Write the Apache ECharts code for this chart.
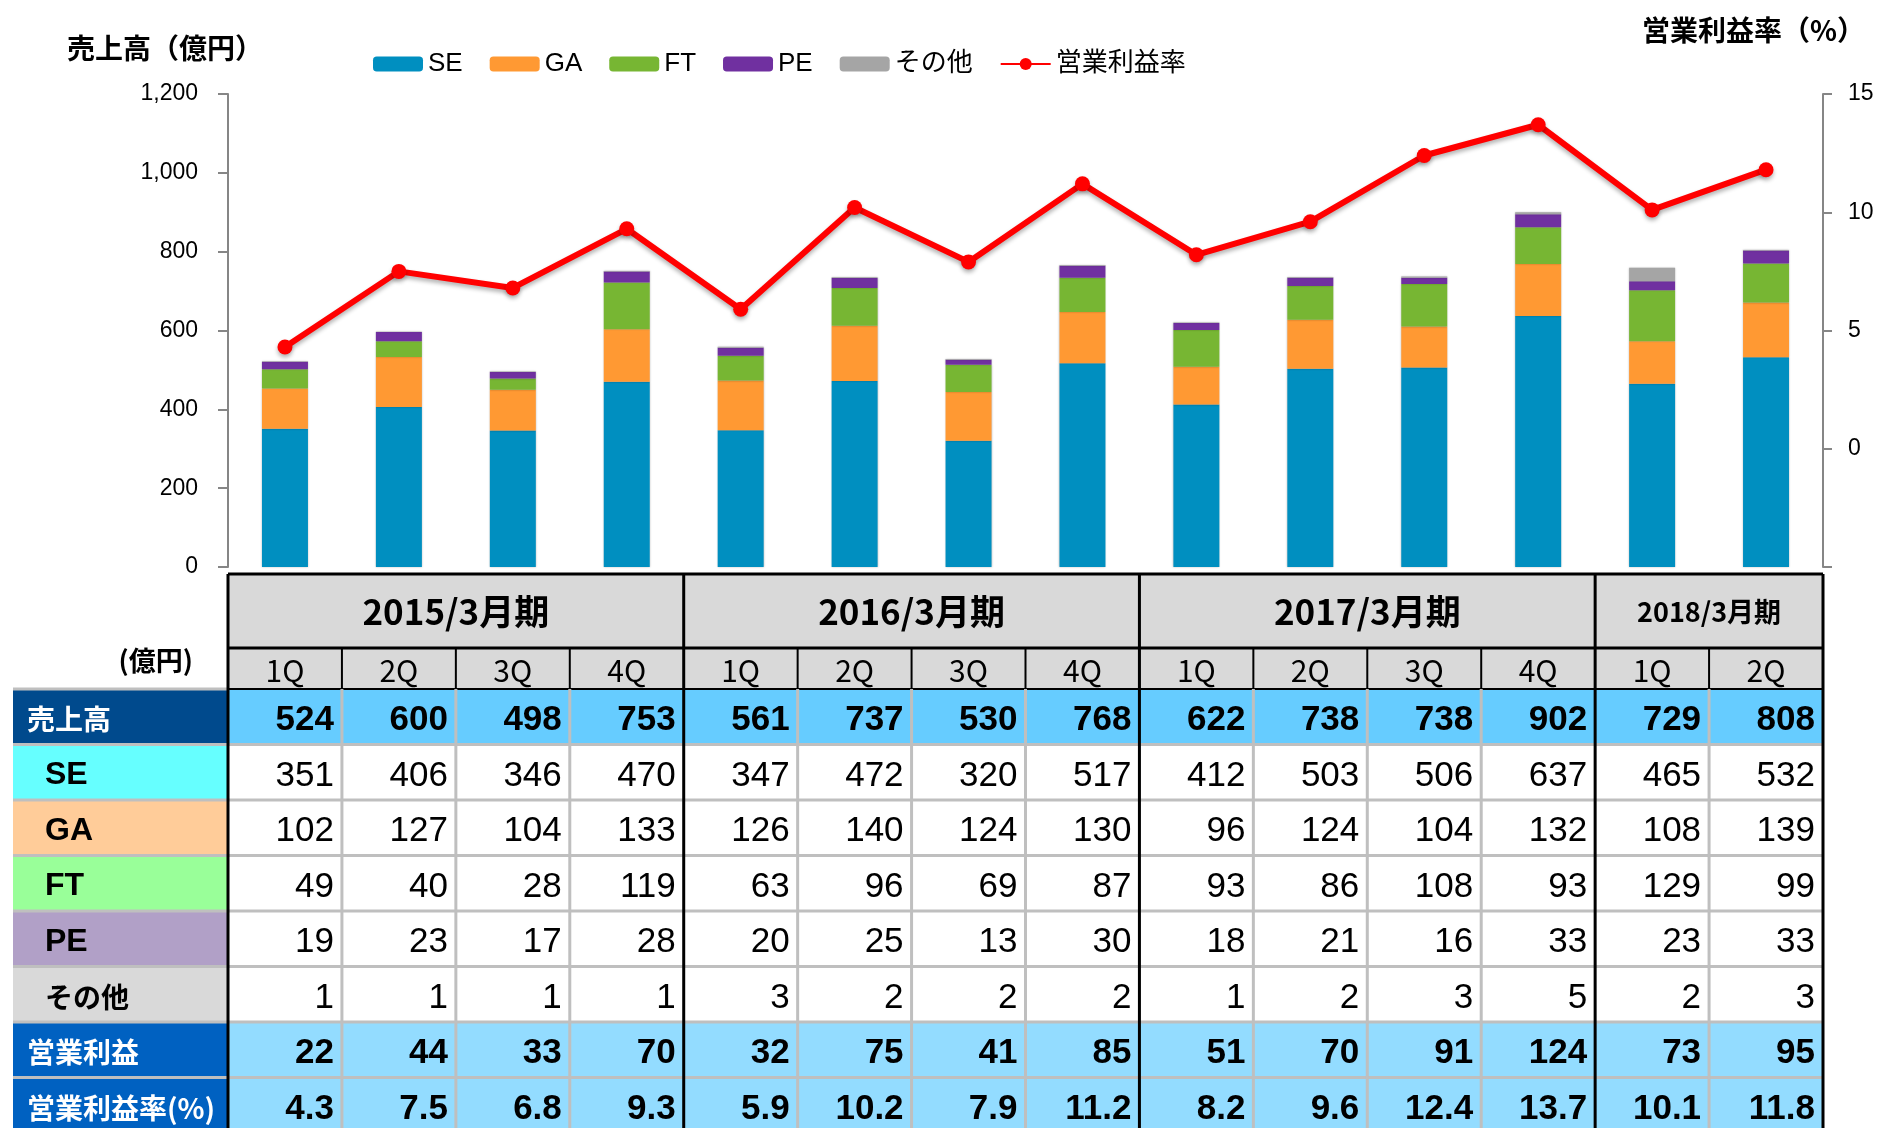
<!DOCTYPE html>
<html>
<head>
<meta charset="utf-8">
<script src="https://cdn.jsdelivr.net/npm/echarts@6/dist/echarts.min.js"></script>
<style>
  html, body { margin: 0; padding: 0; background: #fff; }
  #salesChart { width: 1878px; height: 1128px; }
</style>
</head>
<body>
<div id="salesChart"></div>
<script>
  // 期・四半期
  var periods = ['2015/3月期', '2016/3月期', '2017/3月期', '2018/3月期']
  var periodSpans = [4, 4, 4, 2]
  var quarters = ['1Q', '2Q', '3Q', '4Q', '1Q', '2Q', '3Q', '4Q', '1Q', '2Q', '3Q', '4Q', '1Q', '2Q']
  var categories = ['15/1Q', '15/2Q', '15/3Q', '15/4Q', '16/1Q', '16/2Q', '16/3Q', '16/4Q',
    '17/1Q', '17/2Q', '17/3Q', '17/4Q', '18/1Q', '18/2Q']

  // 表の値（億円）
  var sales = [524, 600, 498, 753, 561, 737, 530, 768, 622, 738, 738, 902, 729, 808]
  var se = [351, 406, 346, 470, 347, 472, 320, 517, 412, 503, 506, 637, 465, 532]
  var ga = [102, 127, 104, 133, 126, 140, 124, 130, 96, 124, 104, 132, 108, 139]
  var ft = [49, 40, 28, 119, 63, 96, 69, 87, 93, 86, 108, 93, 129, 99]
  var pe = [19, 23, 17, 28, 20, 25, 13, 30, 18, 21, 16, 33, 23, 33]
  var others = [1, 1, 1, 1, 3, 2, 2, 2, 1, 2, 3, 5, 2, 3]
  var opProfit = [22, 44, 33, 70, 32, 75, 41, 85, 51, 70, 91, 124, 73, 95]
  var opMargin = [4.3, 7.5, 6.8, 9.3, 5.9, 10.2, 7.9, 11.2, 8.2, 9.6, 12.4, 13.7, 10.1, 11.8]
  // グラフ上の「その他」棒（2018/1Q は表より大きく描かれている）
  var othersBar = [1, 1, 1, 1, 3, 2, 2, 2, 1, 2, 3, 5, 34, 1]

  var tableRows = [
    { label: '売上高', values: sales, labelBg: '#004A8D', labelColor: '#fff', cellBg: '#66CCFF', bold: true, indent: 14, cjk: true },
    { label: 'SE', values: se, labelBg: '#66FFFF', labelColor: '#000', cellBg: '#fff', bold: false, indent: 32 },
    { label: 'GA', values: ga, labelBg: '#FFCC99', labelColor: '#000', cellBg: '#fff', bold: false, indent: 32 },
    { label: 'FT', values: ft, labelBg: '#99FF99', labelColor: '#000', cellBg: '#fff', bold: false, indent: 32 },
    { label: 'PE', values: pe, labelBg: '#B1A0C7', labelColor: '#000', cellBg: '#fff', bold: false, indent: 32 },
    { label: 'その他', values: others, labelBg: '#D9D9D9', labelColor: '#000', cellBg: '#fff', bold: false, indent: 32, cjk: true },
    { label: '営業利益', values: opProfit, labelBg: '#0061C1', labelColor: '#fff', cellBg: '#93DCFF', bold: true, indent: 14, cjk: true },
    { label: '営業利益率(%)', values: opMargin, labelBg: '#0061C1', labelColor: '#fff', cellBg: '#93DCFF', bold: true, indent: 14, cjk: true, decimals: 1 }
  ]

  var colors = ['#008FC0', '#FF9933', '#77B633', '#7030A0', '#A5A5A5', '#FF0000']
  var cjkFont = '"Noto Sans CJK JP", "Liberation Sans", sans-serif'
  var latinFont = '"Liberation Sans", "Noto Sans CJK JP", sans-serif'

  var chart = echarts.init(document.getElementById('salesChart'))

  function barSeries (name, data) {
    return {
      name: name,
      type: 'bar',
      stack: 'sales',
      barWidth: 46,
      data: data,
      itemStyle: { shadowBlur: 2, shadowColor: 'rgba(0,0,0,0.25)' }
    }
  }

  chart.setOption({
    animation: false,
    color: colors,
    title: [
      {
        text: '売上高（億円）',
        left: 62,
        top: 29,
        textStyle: { fontSize: 28, fontWeight: 'bold', color: '#000', fontFamily: cjkFont }
      },
      {
        text: '営業利益率（%）',
        right: 8,
        top: 11,
        textStyle: { fontSize: 28, fontWeight: 'bold', color: '#000', fontFamily: cjkFont }
      }
    ],
    legend: {
      left: 368,
      top: 46,
      itemWidth: 50,
      itemHeight: 15,
      itemGap: 27,
      textStyle: { fontSize: 26, color: '#000', fontFamily: latinFont },
      data: ['SE', 'GA', 'FT', 'PE', 'その他', '営業利益率']
    },
    grid: { left: 228, right: 55, top: 94, bottom: 561 },
    xAxis: {
      type: 'category',
      data: categories,
      axisLine: { show: false },
      axisTick: { show: false },
      axisLabel: { show: false }
    },
    yAxis: [
      {
        type: 'value',
        min: 0,
        max: 1200,
        interval: 200,
        splitLine: { show: false },
        axisLine: { show: true, lineStyle: { color: '#868686', width: 2 } },
        axisTick: { show: true, length: 10, lineStyle: { color: '#868686', width: 2 } },
        axisLabel: {
          margin: 30,
          fontSize: 23,
          color: '#000',
          fontFamily: latinFont,
          formatter: function (v) { return v.toLocaleString('en-US') }
        }
      },
      {
        type: 'value',
        min: -5,
        max: 15,
        interval: 5,
        position: 'right',
        splitLine: { show: false },
        axisLine: { show: true, lineStyle: { color: '#868686', width: 2 } },
        axisTick: { show: true, length: 9, lineStyle: { color: '#868686', width: 2 } },
        axisLabel: {
          margin: 25,
          fontSize: 23,
          color: '#000',
          fontFamily: latinFont,
          formatter: function (v) { return v < 0 ? '' : String(v) }
        }
      }
    ],
    series: [
      barSeries('SE', se),
      barSeries('GA', ga),
      barSeries('FT', ft),
      barSeries('PE', pe),
      barSeries('その他', othersBar),
      {
        name: '営業利益率',
        type: 'line',
        yAxisIndex: 1,
        data: opMargin,
        symbol: 'circle',
        symbolSize: 15,
        lineStyle: { width: 6, color: '#FF0000', shadowColor: 'rgba(0,0,0,0.3)', shadowBlur: 4, shadowOffsetY: 3 },
        itemStyle: { color: '#FF0000', shadowColor: 'rgba(0,0,0,0.3)', shadowBlur: 4, shadowOffsetY: 3 },
        z: 5
      }
    ]
  })

  function rect (x, y, w, h, fill) {
    return { type: 'rect', shape: { x: x, y: y, width: w, height: h }, style: { fill: fill }, z: 1 }
  }
  function line (xa, ya, xb, yb, stroke, width) {
    return { type: 'line', shape: { x1: xa, y1: ya, x2: xb, y2: yb }, style: { stroke: stroke, lineWidth: width }, z: 2 }
  }
  function text (x, y, str, opts) {
    return {
      type: 'text',
      x: x,
      y: y,
      z: 3,
      style: {
        text: str,
        fill: opts.color || '#000',
        fontSize: opts.size,
        fontWeight: opts.bold ? 'bold' : 'normal',
        fontFamily: opts.font || latinFont,
        align: opts.align || 'center',
        verticalAlign: 'middle'
      }
    }
  }

  // 表は x 軸のカテゴリ位置から列を作る
  function drawTable () {
    var xs = categories.map(function (c, i) { return chart.convertToPixel({ xAxisIndex: 0 }, i) })
    var band = xs[1] - xs[0]
    var x0 = xs[0] - band / 2
    var x1 = xs[xs.length - 1] + band / 2
    var labelLeft = 13
    var top = 574
    var yearH = 74
    var quarterH = 41
    var rowH = 55.5
    var bodyTop = top + yearH + quarterH
    var bottom = bodyTop + rowH * tableRows.length
    var els = []

    els.push(rect(x0, top, x1 - x0, yearH + quarterH, '#D9D9D9'))
    tableRows.forEach(function (row, r) {
      var y = bodyTop + r * rowH
      els.push(rect(labelLeft, y, x0 - labelLeft, rowH, row.labelBg))
      els.push(rect(x0, y, x1 - x0, rowH, row.cellBg))
      els.push(text(labelLeft + row.indent, y + rowH / 2 + 3, row.label, {
        color: row.labelColor,
        size: row.cjk ? 28 : 32,
        bold: true,
        font: row.cjk ? cjkFont : latinFont,
        align: 'left'
      }))
      row.values.forEach(function (v, i) {
        els.push(text(x0 + (i + 1) * band - 8, y + rowH / 2 + 4, row.decimals ? v.toFixed(row.decimals) : String(v), {
          size: 35,
          bold: row.bold,
          align: 'right'
        }))
      })
    })

    // 横線
    for (var r = 1; r < tableRows.length; r++) {
      var yy = bodyTop + r * rowH
      els.push(line(labelLeft, yy, x1, yy, '#BFBFBF', 3))
    }
    els.push(line(labelLeft, bodyTop, x0, bodyTop, '#BFBFBF', 3))
    els.push(line(x0, top, x1, top, '#000', 3))
    els.push(line(x0, top + yearH, x1, top + yearH, '#000', 3))
    els.push(line(x0, bodyTop, x1, bodyTop, '#000', 2))

    // 縦線
    var yearEdges = []
    var acc = 0
    periodSpans.forEach(function (s) { acc += s; yearEdges.push(acc) })
    for (var i = 1; i < categories.length; i++) {
      var bx = x0 + i * band
      if (yearEdges.indexOf(i) >= 0) {
        els.push(line(bx, top, bx, bottom, '#000', 3))
      } else {
        els.push(line(bx, bodyTop, bx, bottom, '#BFBFBF', 3))
        els.push(line(bx, top + yearH, bx, bodyTop, '#000', 2))
      }
    }
    els.push(line(x0, top, x0, bottom, '#000', 3))
    els.push(line(x1, top, x1, bottom, '#000', 3))

    // 見出し
    var start = 0
    periods.forEach(function (p, k) {
      var cx = x0 + (start + periodSpans[k] / 2) * band
      els.push(text(cx, top + yearH / 2 + 1, p, { size: periodSpans[k] < 4 ? 27 : 35, bold: true, font: cjkFont }))
      start += periodSpans[k]
    })
    quarters.forEach(function (q, i) {
      els.push(text(xs[i], top + yearH + quarterH / 2 + 2, q, { size: 30, font: cjkFont }))
    })
    els.push(text(193, top + yearH + quarterH / 2 - 8, '(億円)', { size: 27, bold: true, font: cjkFont, align: 'right' }))

    chart.setOption({ graphic: els })
  }

  drawTable()
</script>
</body>
</html>
